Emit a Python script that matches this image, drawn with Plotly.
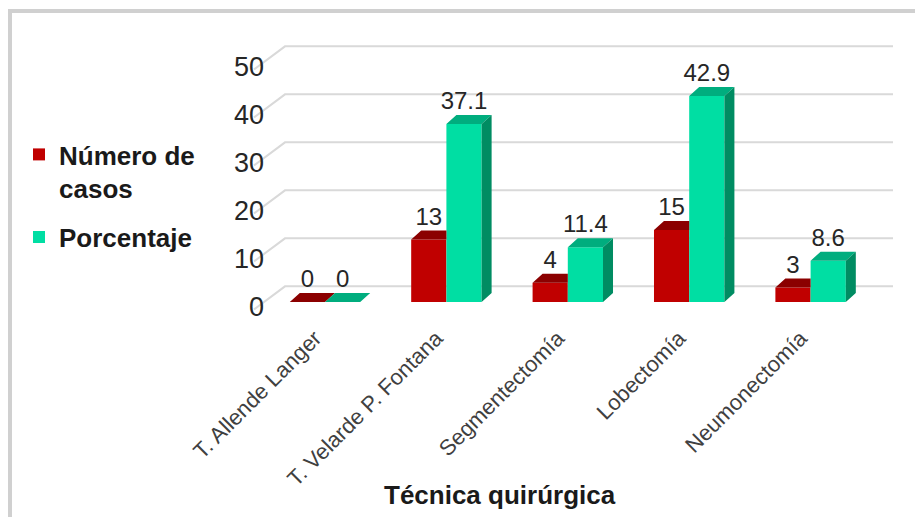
import plotly.graph_objects as go

# ---- data -------------------------------------------------------------
categories = ["T. Allende Langer", "T. Velarde P. Fontana", "Segmentectomía",
              "Lobectomía", "Neumonectomía"]
casos = [0, 13, 4, 15, 3]
porcentaje = [0, 37.1, 11.4, 42.9, 8.6]
y_ticks = [0, 10, 20, 30, 40, 50]

series_names = ["Número de<br>casos", "Porcentaje"]

# ---- styling / geometry (pixels) ---------------------------------------
W, H = 915, 517
PLOT_L, PLOT_R, PLOT_T, PLOT_B = 250, 900, 30, 320
CAT0_PX, CAT_STEP_PX = 325.0, 121.4       # pixel of first category, spacing
BASE_PX, PX_PER_UNIT = 302.0, 4.8         # bar base and vertical scale
LABEL_ZERO_PX = 307.0                      # where the "0" tick label sits
BAR_W = 0.29                               # bar width in category units
BAR_DX_PX, BAR_DY_PX = 10.0, 9.0           # bar depth (3-D extrusion)
FLOOR_FRONT_PX, FLOOR_BACK_PX, WALL_END_PX = 254.0, 285.0, 893.0
GRID_FRONT_DY, GRID_BACK_DY = -0.5, 4.3    # grid ends relative to tick value

RED, RED_TOP = "#C00000", "#8B0000"
TEAL, TEAL_TOP, TEAL_SIDE = "#00DEA3", "#00AD7E", "#008C62"
GRID = "#D9D9D9"
FONT = "Arial, Liberation Sans, sans-serif"


def px_to_x(px):
    return (px - CAT0_PX) / CAT_STEP_PX


def px_to_paper_x(px):
    return (px - PLOT_L) / (PLOT_R - PLOT_L)


def px_to_paper_y(py):
    return 1 - (py - PLOT_T) / (PLOT_B - PLOT_T)


x_range = [px_to_x(PLOT_L), px_to_x(PLOT_R)]
y_range = [(BASE_PX - PLOT_B) / PX_PER_UNIT, (BASE_PX - PLOT_T) / PX_PER_UNIT]
y2_range = [(LABEL_ZERO_PX - PLOT_B) / PX_PER_UNIT,
            (LABEL_ZERO_PX - PLOT_T) / PX_PER_UNIT]
dx = BAR_DX_PX / CAT_STEP_PX
dy = BAR_DY_PX / PX_PER_UNIT

xs = list(range(len(categories)))

fig = go.Figure()

# front faces of the bars
fig.add_trace(go.Bar(x=xs, y=casos, name=series_names[0], width=BAR_W,
                     offset=-BAR_W, marker=dict(color=RED, line_width=0),
                     legendgroup="casos", hoverinfo="y"))
fig.add_trace(go.Bar(x=xs, y=porcentaje, name=series_names[1], width=BAR_W,
                     offset=0, marker=dict(color=TEAL, line_width=0),
                     legendgroup="porcentaje", hoverinfo="y"))


def polys_trace(polys, color):
    px_, py_ = [], []
    for poly in polys:
        for (a, b) in poly + [poly[0]]:
            px_.append(a)
            py_.append(b)
        px_.append(None)
        py_.append(None)
    return go.Scatter(x=px_, y=py_, mode="lines", fill="toself",
                      fillcolor=color, line=dict(width=0, color=color),
                      hoverinfo="skip", showlegend=False)


red_top, teal_top, teal_side = [], [], []
for i, (v, t) in enumerate(zip(casos, porcentaje)):
    x0, xc, x1 = i - BAR_W, i, i + BAR_W
    if t >= v + dy:
        # the part behind the taller neighbour is hidden
        red_top.append([(x0, v), (xc, v), (xc, v + dy), (x0 + dx, v + dy)])
    else:
        red_top.append([(x0, v), (xc, v), (xc + dx, v + dy), (x0 + dx, v + dy)])
    teal_top.append([(xc, t), (x1, t), (x1 + dx, t + dy), (xc + dx, t + dy)])
    if t > 0:
        teal_side.append([(x1, 0), (x1 + dx, dy), (x1 + dx, t + dy), (x1, t)])

fig.add_trace(polys_trace(red_top, RED_TOP))
fig.add_trace(polys_trace(teal_top, TEAL_TOP))
fig.add_trace(polys_trace(teal_side, TEAL_SIDE))

# value labels above each bar
for vals, off in ((casos, -BAR_W / 2), (porcentaje, BAR_W / 2)):
    fig.add_trace(go.Scatter(
        x=[i + off for i in xs], y=[v + dy for v in vals],
        text=[f"{v:g}" for v in vals], mode="text",
        textposition="top center",
        textfont=dict(family=FONT, size=24, color="#262626"),
        hoverinfo="skip", showlegend=False, cliponaxis=False))

# 3-D grid: short diagonal on the floor side, then along the back wall
shapes = []
xf, xb, xe = px_to_x(FLOOR_FRONT_PX), px_to_x(FLOOR_BACK_PX), px_to_x(WALL_END_PX)
for v in y_ticks:
    yf, yb = v + GRID_FRONT_DY, v + GRID_BACK_DY
    shapes.append(dict(type="path", xref="x", yref="y2", layer="below",
                       path=f"M{xf},{yf} L{xb},{yb} L{xe},{yb}",
                       line=dict(color=GRID, width=2)))

# outer chart frame
shapes.append(dict(type="rect", xref="paper", yref="paper", layer="above",
                   x0=px_to_paper_x(10), x1=px_to_paper_x(930),
                   y0=px_to_paper_y(530), y1=px_to_paper_y(11),
                   line=dict(color="#D0D0D0", width=4),
                   fillcolor="rgba(0,0,0,0)"))

fig.update_layout(
    width=W, height=H, autosize=False,
    margin=dict(l=PLOT_L, r=W - PLOT_R, t=PLOT_T, b=H - PLOT_B, pad=0),
    paper_bgcolor="white", plot_bgcolor="white",
    barmode="overlay", showlegend=True,
    font=dict(family=FONT, color="#262626"),
    xaxis=dict(range=x_range, tickmode="array", tickvals=xs,
               ticktext=categories, tickangle=-45, showgrid=False,
               zeroline=False, showline=False, ticks="", ticklabelshift=-10,
               tickfont=dict(family=FONT, size=22, color="#404040")),
    yaxis=dict(range=y_range, visible=False, showgrid=False, zeroline=False),
    yaxis2=dict(range=y2_range, overlaying="y", anchor="free",
                position=px_to_paper_x(264), side="left",
                tickmode="array", tickvals=y_ticks, showgrid=False,
                zeroline=False, showline=False, ticks="",
                tickfont=dict(family=FONT, size=27, color="#262626")),
    legend=dict(x=px_to_paper_x(19), y=px_to_paper_y(131),
                xanchor="left", yanchor="top", valign="top",
                tracegroupgap=12, bgcolor="rgba(0,0,0,0)",
                font=dict(family=FONT, size=26, color="#1A1A1A",
                          weight="bold")),
    shapes=shapes,
    annotations=[dict(text="<b>Técnica quirúrgica</b>", xref="paper",
                      yref="paper", x=px_to_paper_x(500),
                      y=px_to_paper_y(495),
                      xanchor="center", yanchor="middle", showarrow=False,
                      font=dict(family=FONT, size=26, color="#1A1A1A"))],
)

fig.write_html("out.html")
